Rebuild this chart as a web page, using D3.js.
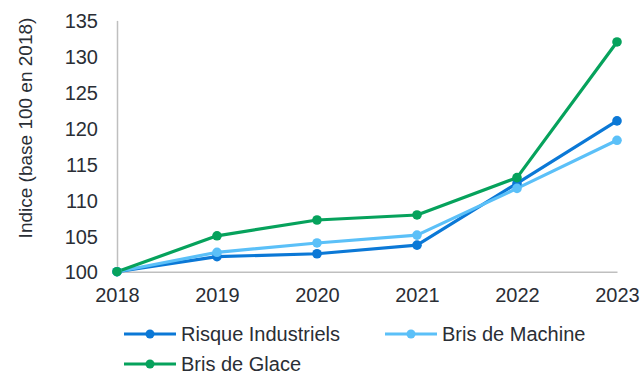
<!DOCTYPE html>
<html>
<head>
<meta charset="utf-8">
<script src="https://cdn.jsdelivr.net/npm/d3@7"></script>
<style>
  html, body { margin: 0; padding: 0; background: #fff; }
  svg { display: block; font-family: "Liberation Sans", Arial, sans-serif; }
</style>
</head>
<body>
<svg id="chart" width="641" height="373"></svg>
<script>
// Années et indices (base 100 en 2018)
const years = ["2018", "2019", "2020", "2021", "2022", "2023"];
const risqueIndustriels = [100, 102.1, 102.5, 103.7, 112.3, 121.0];
const brisDeMachine = [100, 102.7, 104.0, 105.1, 111.6, 118.3];
const brisDeGlace = [100, 105.0, 107.2, 107.9, 113.1, 132.0];
const yTicks = [100, 105, 110, 115, 120, 125, 130, 135];

const series = [
  { name: "Risque Industriels", values: risqueIndustriels, color: "#0B78D6" },
  { name: "Bris de Machine", values: brisDeMachine, color: "#5BC0F8" },
  { name: "Bris de Glace", values: brisDeGlace, color: "#06A25C" }
];

const svg = d3.select("#chart");
const textColor = "#2a2e35";
const axisColor = "#bfbfbf";

const x = d3.scalePoint().domain(years).range([117, 617]);
const y = d3.scaleLinear().domain([100, 135]).range([271.7, 20.4]);

// Axe Y
const yAxis = svg.append("g")
  .attr("transform", "translate(117,0)")
  .call(d3.axisLeft(y).tickValues(yTicks).tickSize(0).tickPadding(19));
yAxis.select(".domain").attr("stroke", axisColor).attr("stroke-width", 1.5);
yAxis.selectAll("text")
  .attr("fill", textColor)
  .style("font-size", "20px")
  .attr("dy", "0.36em");

// Axe X
const xAxis = svg.append("g")
  .attr("transform", "translate(0,271.7)")
  .call(d3.axisBottom(x).tickSize(0).tickPadding(16));
xAxis.select(".domain").attr("stroke", axisColor).attr("stroke-width", 1.5);
xAxis.selectAll("text")
  .attr("fill", textColor)
  .style("font-size", "20px");

// Titre de l'axe Y
svg.append("text")
  .attr("transform", "translate(25,128) rotate(-90)")
  .attr("text-anchor", "middle")
  .attr("dy", "0.35em")
  .attr("fill", textColor)
  .style("font-size", "19px")
  .text("Indice (base 100 en 2018)");

// Courbes
const line = d3.line()
  .x((d, i) => x(years[i]))
  .y(d => y(d));

const g = svg.append("g");
series.forEach(s => {
  g.append("path")
    .datum(s.values)
    .attr("fill", "none")
    .attr("stroke", s.color)
    .attr("stroke-width", 3.2)
    .attr("stroke-linejoin", "round")
    .attr("d", line);
});
series.forEach(s => {
  g.selectAll(null)
    .data(s.values)
    .enter()
    .append("circle")
    .attr("cx", (d, i) => x(years[i]))
    .attr("cy", d => y(d))
    .attr("r", 4.8)
    .attr("fill", s.color);
});

// Légende
const legendPos = [
  { x: 124, y: 334 },
  { x: 385, y: 334 },
  { x: 124, y: 364 }
];
series.forEach((s, i) => {
  const p = legendPos[i];
  const lg = svg.append("g").attr("transform", `translate(${p.x},${p.y})`);
  lg.append("line")
    .attr("x1", 0).attr("x2", 52)
    .attr("y1", 0).attr("y2", 0)
    .attr("stroke", s.color)
    .attr("stroke-width", 3.2);
  lg.append("circle")
    .attr("cx", 26).attr("cy", 0).attr("r", 4.5)
    .attr("fill", s.color);
  lg.append("text")
    .attr("x", 57).attr("y", 0)
    .attr("dy", "0.35em")
    .attr("fill", textColor)
    .style("font-size", "20px")
    .text(s.name);
});
</script>
</body>
</html>
